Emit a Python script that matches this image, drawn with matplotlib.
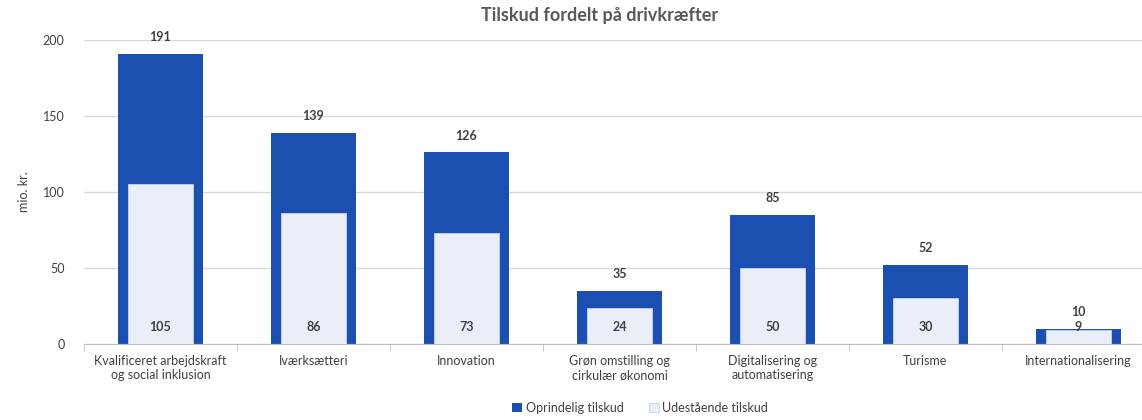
import matplotlib.pyplot as plt
import numpy as np

categories = ["Kvalificeret arbejdskraft\nog social inklusion", "Iværksætteri", "Innovation",
              "Grøn omstilling og\ncirkulær økonomi", "Digitalisering og\nautomatisering",
              "Turisme", "Internationalisering"]
oprindelig = [191, 139, 126, 35, 85, 52, 10]
udestaaende = [105, 86, 73, 24, 50, 30, 9]

plt.rcParams['font.family'] = ['Lato', 'DejaVu Sans']
blue = "#1B4FB0"
light = "#E9EEF8"
txt = "#404040"

fig = plt.figure(figsize=(11.42, 4.2), dpi=100)
ax = fig.add_axes([84 / 1142, 76 / 420, 1071 / 1142, 304 / 420])

x = np.arange(len(categories))
ax.bar(x, oprindelig, width=0.56, color=blue, label="Oprindelig tilskud", zorder=2)
ax.bar(x, udestaaende, width=0.43, color=light, edgecolor="#C9D3EA", linewidth=0.6,
       label="Udestående tilskud", zorder=3)

for i in range(len(x)):
    ax.text(x[i], oprindelig[i] + 11, str(oprindelig[i]), ha="center", va="center",
            fontsize=9, color=txt, fontweight="bold", clip_on=False)
    ax.text(x[i], 11, str(udestaaende[i]), ha="center", va="center",
            fontsize=9, color=txt, fontweight="bold", zorder=4)

ax.set_xlim(-0.5, len(categories) - 0.5)
ax.set_ylim(0, 200)
ax.set_yticks([0, 50, 100, 150, 200])
ax.yaxis.grid(True, color="#D9D9D9", linewidth=1, zorder=0)
ax.set_axisbelow(True)
for s in ["top", "right", "left"]:
    ax.spines[s].set_visible(False)
ax.spines["bottom"].set_color("#BFBFBF")
ax.tick_params(axis="y", length=0, labelsize=9, labelcolor=txt, pad=14)
ax.set_xticks(x)
ax.set_xticklabels(categories, fontsize=9, color=txt, va="top")
ax.tick_params(axis="x", length=0, pad=8)
ax.set_xticks(np.arange(len(categories) + 1) - 0.5, minor=True)
ax.tick_params(axis="x", which="minor", length=5, color="#BFBFBF")
ax.set_ylabel("mio. kr.", fontsize=9, color=txt, labelpad=9)

ax.set_title("Tilskud fordelt på drivkræfter", fontsize=13, fontweight="bold",
             color="#595959", x=(600 - 84) / 1071, pad=14)

fig.legend(loc="center", bbox_to_anchor=(640 / 1142, 1 - 408 / 420), ncol=2, frameon=False,
           fontsize=9, handlelength=0.8, handleheight=0.8, columnspacing=2.0,
           handletextpad=0.3, labelcolor=txt)

fig.savefig("out.png", dpi=100)
